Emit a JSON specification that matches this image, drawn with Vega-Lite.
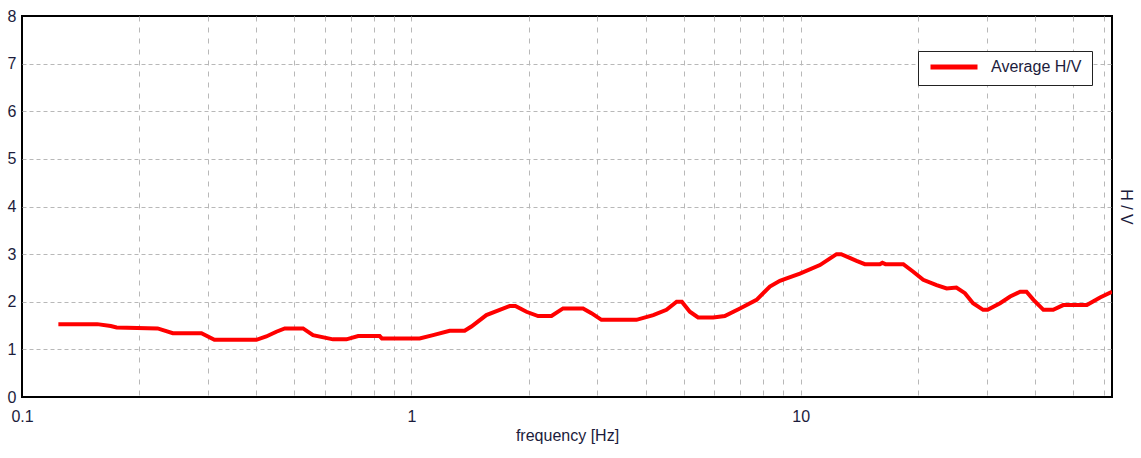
{
  "$schema": "https://vega.github.io/schema/vega-lite/v6.json",
  "autosize": {"type": "none"},
  "padding": {"left": 22, "top": 16, "right": 29, "bottom": 61},
  "width": 1090,
  "height": 381,
  "background": "white",
  "config": {
    "view": {"stroke": "#000000", "strokeWidth": 2},
    "font": "Liberation Sans, Arial, sans-serif",
    "axis": {"labelFont": "Liberation Sans, Arial, sans-serif", "titleFont": "Liberation Sans, Arial, sans-serif", "labelColor": "#1c1c3c", "titleColor": "#1c1c3c", "titleFontWeight": "normal"}
  },
  "data": {"values": [
    {"f": 0.124, "hv": 1.53}, {"f": 0.156, "hv": 1.53}, {"f": 0.169, "hv": 1.49}, {"f": 0.175, "hv": 1.46},
    {"f": 0.223, "hv": 1.44}, {"f": 0.244, "hv": 1.34}, {"f": 0.289, "hv": 1.34}, {"f": 0.312, "hv": 1.2},
    {"f": 0.4, "hv": 1.2}, {"f": 0.424, "hv": 1.27}, {"f": 0.45, "hv": 1.37}, {"f": 0.473, "hv": 1.44},
    {"f": 0.527, "hv": 1.44}, {"f": 0.559, "hv": 1.3}, {"f": 0.629, "hv": 1.21}, {"f": 0.681, "hv": 1.21},
    {"f": 0.73, "hv": 1.28}, {"f": 0.829, "hv": 1.28}, {"f": 0.84, "hv": 1.23}, {"f": 1.05, "hv": 1.23},
    {"f": 1.137, "hv": 1.3}, {"f": 1.254, "hv": 1.39}, {"f": 1.37, "hv": 1.39}, {"f": 1.426, "hv": 1.48},
    {"f": 1.558, "hv": 1.72}, {"f": 1.686, "hv": 1.83}, {"f": 1.789, "hv": 1.91}, {"f": 1.85, "hv": 1.91},
    {"f": 1.975, "hv": 1.79}, {"f": 2.115, "hv": 1.7}, {"f": 2.29, "hv": 1.7}, {"f": 2.452, "hv": 1.86},
    {"f": 2.76, "hv": 1.86}, {"f": 2.9, "hv": 1.76}, {"f": 3.077, "hv": 1.62}, {"f": 3.785, "hv": 1.62},
    {"f": 4.18, "hv": 1.72}, {"f": 4.52, "hv": 1.83}, {"f": 4.8, "hv": 2.0}, {"f": 4.95, "hv": 2.0},
    {"f": 5.19, "hv": 1.79}, {"f": 5.45, "hv": 1.67}, {"f": 5.96, "hv": 1.67}, {"f": 6.38, "hv": 1.7},
    {"f": 6.98, "hv": 1.86}, {"f": 7.7, "hv": 2.04}, {"f": 8.33, "hv": 2.32}, {"f": 8.84, "hv": 2.44},
    {"f": 9.2, "hv": 2.49}, {"f": 9.95, "hv": 2.59}, {"f": 11.2, "hv": 2.77}, {"f": 12.36, "hv": 3.0},
    {"f": 12.7, "hv": 3.0}, {"f": 13.91, "hv": 2.86}, {"f": 14.61, "hv": 2.79}, {"f": 15.97, "hv": 2.79},
    {"f": 16.2, "hv": 2.82}, {"f": 16.5, "hv": 2.79}, {"f": 18.34, "hv": 2.79}, {"f": 19.45, "hv": 2.63},
    {"f": 20.63, "hv": 2.46}, {"f": 22.33, "hv": 2.35}, {"f": 23.7, "hv": 2.28}, {"f": 25.1, "hv": 2.3},
    {"f": 26.4, "hv": 2.18}, {"f": 27.7, "hv": 1.97}, {"f": 29.4, "hv": 1.83}, {"f": 30.2, "hv": 1.83},
    {"f": 32.5, "hv": 1.97}, {"f": 34.5, "hv": 2.11}, {"f": 36.6, "hv": 2.21}, {"f": 38.0, "hv": 2.21},
    {"f": 39.6, "hv": 2.04}, {"f": 42.0, "hv": 1.83}, {"f": 44.5, "hv": 1.83}, {"f": 47.2, "hv": 1.93},
    {"f": 54.3, "hv": 1.93}, {"f": 58.7, "hv": 2.09}, {"f": 63, "hv": 2.21}
  ]},
  "layer": [
    {
      "mark": {"type": "line", "strokeWidth": 4, "clip": true},
      "encoding": {
        "x": {
          "field": "f", "type": "quantitative",
          "scale": {"type": "log", "domain": [0.1, 63], "nice": false},
          "axis": {
            "values": [0.1, 0.2, 0.3, 0.4, 0.5, 0.6, 0.7, 0.8, 0.9, 1, 2, 3, 4, 5, 6, 7, 8, 9, 10, 20, 30, 40, 50, 60],
            "labelExpr": "indexof([0.1, 1, 10], datum.value) >= 0 ? toString(datum.value) : ''",
            "labelFontSize": 16, "labelPadding": 11, "labelFlush": false, "labelOverlap": false,
            "ticks": false, "domain": false,
            "grid": true, "gridColor": "#b8b8b8", "gridDash": [5, 6], "gridWidth": 1,
            "gridOpacity": {"condition": {"test": "datum.value <= 0.1", "value": 0}, "value": 1},
            "title": "frequency [Hz]", "titleFontSize": 16, "titlePadding": 3
          }
        },
        "y": {
          "field": "hv", "type": "quantitative",
          "scale": {"domain": [0, 8], "nice": false},
          "axis": {
            "values": [0, 1, 2, 3, 4, 5, 6, 7, 8],
            "labelFontSize": 16, "labelPadding": 6, "labelFlush": false,
            "ticks": false, "domain": false,
            "grid": true, "gridColor": "#b8b8b8", "gridDash": [4, 3], "gridWidth": 1,
            "gridOpacity": {"condition": {"test": "datum.value == 0 || datum.value == 8", "value": 0}, "value": 1},
            "title": null
          }
        },
        "color": {
          "datum": "Average H/V",
          "scale": {"range": ["#ff0000"]},
          "legend": {
            "title": null, "orient": "none", "legendX": 896, "legendY": 35,
            "strokeColor": "#222222", "fillColor": "#ffffff", "padding": 10,
            "symbolType": "stroke", "symbolSize": 2209, "symbolStrokeWidth": 5,
            "clipHeight": 12,
            "labelFontSize": 16, "labelOffset": 11, "labelColor": "#1c1c3c",
            "labelFont": "Liberation Sans, Arial, sans-serif"
          }
        }
      }
    },
    {
      "mark": {"type": "line", "opacity": 0},
      "encoding": {
        "x": {"field": "f", "type": "quantitative"},
        "y": {
          "field": "hv", "type": "quantitative",
          "axis": {
            "orient": "right", "labels": false, "ticks": false, "domain": false, "grid": false,
            "title": "H / V", "titleAngle": 90, "titleFontSize": 16, "titlePadding": 5
          }
        }
      }
    }
  ],
  "resolve": {"axis": {"y": "independent"}}
}
